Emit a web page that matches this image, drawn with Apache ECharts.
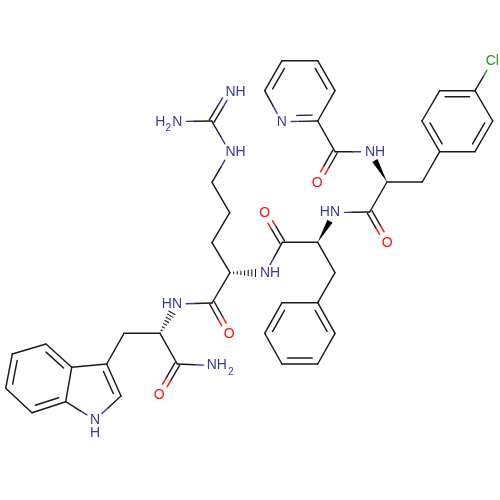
<!DOCTYPE html>
<html>
<head>
<meta charset="utf-8">
<style>html,body{margin:0;padding:0;background:#fff}#c{width:500px;height:500px}</style>
<script src="https://cdn.jsdelivr.net/npm/echarts@6/dist/echarts.min.js"></script>
</head>
<body>
<div id="c"></div>
<script>
// atoms: name, x, y, element
const atomNames = ['pN','pC2','pC3','pC4','pC5','pC6','c1','o1','n1','ca1','cb1','a1','a2','a3','a4','a5','a6','cl',
  'c2','o2','n2','ca2','cb2','b1','b2','b3','b4','b5','b6','c3','o3','n3','ca3','ag1','ag2','ag3','ng','cg','nh1','nh2',
  'c4','o4','n4','ca4','cb4','c5','o5','n5','i3','i2','i1','i7a','i3a','i4','i5','i6','i7'];
const atomX = [281.7,317.7,335,317.7,282,264.7,335,317.3,370,387,422.3,439.7,422,439.7,475,492.7,475,492.5,
  369.7,387.3,335,317.7,335,317.7,335,317.7,282,264.7,282,282.3,264.7,265.5,230,212,229.7,212,229.7,211.7,229.7,176.7,
  212,229.3,176.7,160,124,177.3,159.3,213,106.7,121,95,65.7,71.7,46,12.3,5.7,32];
const atomY = [121.7,121,90.7,60.7,60.7,90.7,151.7,182.7,151.7,182,182,151.7,121,90.7,90.7,121,151.7,61,
  212,242.7,212.5,242.3,272.7,302.7,333.3,364,364,333.3,302.7,242.3,212.7,273,272.7,242.7,212.7,182.3,152,121,91,121.5,
  303,334,304,333.3,333.3,364,395,365.5,364,396,420,401.7,367.3,344,354,388.3,412.7];
const atomElements = {pN:'N',o1:'O',n1:'N',cl:'Cl',o2:'O',n2:'N',o3:'O',n3:'N',ng:'N',nh1:'N',nh2:'N',o4:'O',n4:'N',o5:'O',n5:'N',i1:'N'};
const elementColors = {C:'#1a1a1a',N:'#3a3a9e',O:'#ff1010',Cl:'#1ea01e'};

// bonds
const singleBonds = [['pC2','c1'],['pC2','pC3'],['pC4','pC5'],['pC6','pN'],['c1','n1'],['ca1','cb1'],['cb1','a1'],['ca1','c2'],
  ['a1','a6'],['a2','a3'],['a4','a5'],['a4','cl'],['c2','n2'],['c3','ca2'],['ca2','cb2'],['cb2','b1'],['b1','b6'],['b2','b3'],['b4','b5'],
  ['c3','n3'],['ca3','ag1'],['ag1','ag2'],['ag2','ag3'],['ag3','ng'],['ng','cg'],['cg','nh2'],['ca3','c4'],['c4','n4'],
  ['ca4','cb4'],['cb4','i3'],['ca4','c5'],['c5','n5'],['i2','i1'],['i1','i7a'],['i7a','i3a'],['i3a','i3'],['i4','i5'],['i6','i7']];
const carbonylBonds = [['c1','o1'],['c2','o2'],['c3','o3'],['c4','o4'],['c5','o5'],['cg','nh1']];
const ringDoubles = [['pN','pC2','pC4'],['pC3','pC4','pN'],['pC5','pC6','pC2'],
  ['a1','a2','a4'],['a3','a4','a1'],['a5','a6','a3'],
  ['b1','b2','b4'],['b3','b4','b1'],['b5','b6','b2'],
  ['i3','i2','i7a'],['i3a','i4','i6'],['i5','i6','i3a'],['i7','i7a','i5']];
const wedgeBonds = [['ca1','n1'],['ca2','n2']];
const hashBonds = [['ca3','n3'],['ca4','n4']];

// atom labels: text, x, y, horizontal anchor, size, element
const labelTexts = ['N','O','NH','Cl','O','HN','O','NH','NH','NH','H','N','O','HN','O','NH','2','N','H','2'];
const labelX = [281.7,317.3,365,492.3,387.3,340,264.7,260,225.5,225.5,160.3,177.2,229.3,182,159.3,206.7,230.7,95,95,168.2];
const labelY = [121.7,182.7,152.5,61,242.7,212.5,212.7,273,151.7,92,121.7,121.7,334,304,395,365.5,372,420,433.5,128.3];
const labelAlign = ['center','center','left','center','center','right','center','left','left','left','center','center','center','right','center','left','center','center','center','center'];
const labelSize = [14,14,14,14,14,14,14,14,14,14,14,14,14,14,14,14,10,14,14,10];
const labelEl = ['N','O','N','Cl','O','N','O','N','N','N','N','N','O','N','O','N','N','N','N','N'];

const idx = n => atomNames.indexOf(n);
const el = n => atomElements[n] || 'C';
const TRIM = {N:9.5,O:11,Cl:11,C:0};
const LW = 1.45;

function makeBond(pair, kind){
  const a = idx(pair[0]), b = idx(pair[1]);
  const r = pair[2] ? idx(pair[2]) : a;
  return {value:[atomX[a],atomY[a],atomX[b],atomY[b],atomX[r],atomY[r]], kind, ea:el(pair[0]), eb:el(pair[1])};
}
const bondData = [].concat(
  singleBonds.map(p=>makeBond(p,'single')),
  carbonylBonds.map(p=>makeBond(p,'double')),
  ringDoubles.map(p=>makeBond(p,'ring')),
  wedgeBonds.map(p=>makeBond(p,'wedge')),
  hashBonds.map(p=>makeBond(p,'hash'))
);
const labelData = labelTexts.map((t,i)=>({value:[labelX[i],labelY[i]],text:t,align:labelAlign[i],size:labelSize[i],color:elementColors[labelEl[i]]}));

function seg(x1,y1,x2,y2,color,w){
  return {type:'line',shape:{x1,y1,x2,y2},style:{stroke:color,lineWidth:w||LW,lineCap:'round'},silent:true};
}
// a two-coloured line between atoms, trimmed at labelled ends
function twoTone(out,p,q,ea,eb,tA,tB){
  const dx=q[0]-p[0],dy=q[1]-p[1],len=Math.hypot(dx,dy),ux=dx/len,uy=dy/len;
  const s=[p[0]+ux*tA,p[1]+uy*tA],e=[q[0]-ux*tB,q[1]-uy*tB],m=[(p[0]+q[0])/2,(p[1]+q[1])/2];
  if(ea===eb){out.push(seg(s[0],s[1],e[0],e[1],elementColors[ea]));return;}
  out.push(seg(s[0],s[1],m[0],m[1],elementColors[ea]));
  out.push(seg(m[0],m[1],e[0],e[1],elementColors[eb]));
}
function renderBond(params,api){
  const item = bondData[params.dataIndex];
  const p = api.coord([api.value(0),api.value(1)]);
  const q = api.coord([api.value(2),api.value(3)]);
  const ref = api.coord([api.value(4),api.value(5)]);
  const dx=q[0]-p[0],dy=q[1]-p[1],len=Math.hypot(dx,dy),ux=dx/len,uy=dy/len,nx=-uy,ny=ux;
  const out=[];
  const tA=TRIM[item.ea],tB=TRIM[item.eb];
  if(item.kind==='single'){
    twoTone(out,p,q,item.ea,item.eb,tA,tB);
  } else if(item.kind==='double'){
    const o=2.6;
    twoTone(out,[p[0]+nx*o,p[1]+ny*o],[q[0]+nx*o,q[1]+ny*o],item.ea,item.eb,tA,tB);
    twoTone(out,[p[0]-nx*o,p[1]-ny*o],[q[0]-nx*o,q[1]-ny*o],item.ea,item.eb,tA,tB);
  } else if(item.kind==='ring'){
    twoTone(out,p,q,item.ea,item.eb,tA,tB);
    const side=((ref[0]-p[0])*nx+(ref[1]-p[1])*ny)>0?1:-1, o=6*side, cut=5.5;
    twoTone(out,[p[0]+nx*o+ux*cut,p[1]+ny*o+uy*cut],[q[0]+nx*o-ux*cut,q[1]+ny*o-uy*cut],item.ea,item.eb,tA,tB);
  } else if(item.kind==='wedge'){
    const L=len-10, ex=p[0]+ux*L, ey=p[1]+uy*L, w=3;
    out.push({type:'polygon',shape:{points:[[p[0],p[1]],[ex+nx*w,ey+ny*w],[ex-nx*w,ey-ny*w]]},style:{fill:'#000'},silent:true});
  } else if(item.kind==='hash'){
    const L=len-10, n=7;
    for(let i=1;i<=n;i++){
      const d=L*i/n, w=3.2*i/n+0.3, cx=p[0]+ux*d, cy=p[1]+uy*d;
      out.push(seg(cx+nx*w,cy+ny*w,cx-nx*w,cy-ny*w,'#1a1a1a',1.1));
    }
  }
  return {type:'group',children:out};
}
function renderLabel(params,api){
  const item = labelData[params.dataIndex];
  const c = api.coord([api.value(0),api.value(1)]);
  return {type:'text',silent:true,style:{x:c[0],y:c[1],text:item.text,fill:item.color,align:item.align,verticalAlign:'middle',
    font:item.size+'px "Liberation Sans"'}};
}
const chart = echarts.init(document.getElementById('c'),null,{renderer:'canvas'});
chart.setOption({
  animation:false,
  backgroundColor:'#fff',
  grid:{left:0,right:0,top:0,bottom:0},
  xAxis:{type:'value',min:0,max:500,show:false},
  yAxis:{type:'value',min:0,max:500,inverse:true,show:false},
  series:[
    {type:'custom',coordinateSystem:'cartesian2d',clip:false,renderItem:renderBond,data:bondData,encode:{x:[0,2],y:[1,3]},silent:true},
    {type:'custom',coordinateSystem:'cartesian2d',clip:false,renderItem:renderLabel,data:labelData,encode:{x:0,y:1},silent:true}
  ]
});
</script>
</body>
</html>
